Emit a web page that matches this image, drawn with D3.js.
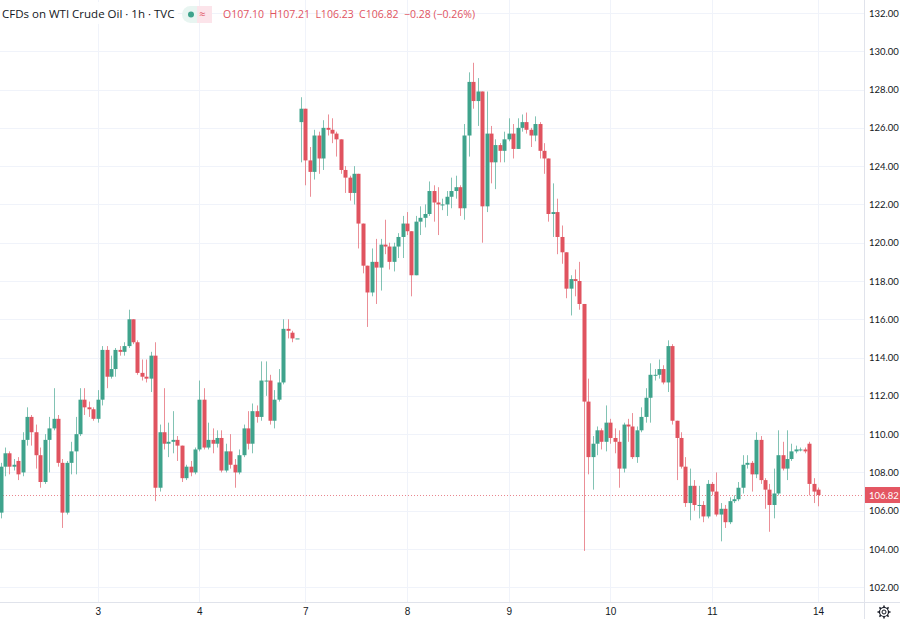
<!DOCTYPE html>
<html><head><meta charset="utf-8">
<script src="https://cdn.jsdelivr.net/npm/d3@7"></script>
<style>body{margin:0;background:#fff}svg{display:block;font-family:"Open Sans","Noto Sans",sans-serif}</style>
</head><body>
<svg id="c" width="900" height="619"></svg>
<script>
const opens=[105.9,108.3,109.0,108.3,108.6,108.0,109.7,110.9,110.1,108.9,107.5,109.7,110.3,110.8,108.5,105.9,108.5,109.1,110.0,111.8,111.4,111.3,110.8,111.8,114.4,113.0,113.4,114.4,114.3,114.6,116.0,114.8,113.2,113.0,112.9,114.1,107.2,110.1,109.5,109.6,109.7,109.4,107.7,108.3,108.0,109.2,111.8,109.3,109.7,109.5,109.8,108.1,109.1,108.4,108.0,108.9,110.3,109.5,111.2,110.9,112.8,112.8,110.7,111.8,112.7,115.5,115.3,115.0,
126.3,127.0,124.3,123.7,125.6,124.4,126.0,125.9,125.7,125.4,123.8,123.4,122.6,123.6,121.0,118.8,117.4,119.0,118.7,119.9,119.8,119.0,119.8,120.3,121.0,120.6,118.3,121.1,121.3,121.5,122.7,122.1,122.0,122.0,122.4,122.7,122.9,121.8,125.6,128.4,127.4,127.9,121.9,125.7,124.2,125.1,124.8,125.4,125.7,124.9,126.0,126.3,125.9,125.6,126.2,124.8,124.4,121.5,121.6,120.3,119.5,117.6,118.1,118.0,116.8,111.7,108.8,109.5,110.2,109.6,110.6,109.8,109.6,108.2,110.5,110.4,108.8,110.2,110.9,111.9,113.1,113.1,113.4,112.7,114.6,110.7,109.8,108.3,106.4,107.3,106.3,106.3,105.7,107.4,107.0,105.8,106.1,105.4,106.5,106.6,107.2,108.4,108.5,107.9,109.7,107.6,107.1,106.3,106.9,108.9,108.2,108.7,109.1,109.2,109.2,109.5,107.4,107.1];
const highs=[108.5,109.3,109.1,108.7,108.8,110.1,111.4,111.0,110.5,109.3,110.0,110.9,112.4,111.0,108.7,108.6,109.6,110.9,112.4,112.4,111.7,111.4,112.3,114.6,114.6,114.1,114.5,114.6,114.8,116.5,116.0,114.9,113.9,113.9,114.3,114.8,110.5,112.4,110.6,111.2,109.9,109.4,108.4,108.6,109.3,112.8,112.4,110.6,110.3,110.2,110.2,109.5,110.0,108.7,109.2,110.5,111.2,111.6,111.5,113.8,113.8,113.1,112.3,113.4,116.0,116.0,115.4,115.0,
127.6,127.0,125.0,125.9,125.8,126.4,126.7,126.5,125.8,125.4,124.0,123.5,124.0,123.6,121.0,118.8,119.7,120.2,120.2,121.2,120.0,120.0,120.5,121.4,121.6,120.6,121.4,121.9,122.0,123.2,123.0,122.9,122.3,122.7,123.4,123.5,123.0,126.2,128.9,129.4,128.6,127.9,127.9,126.1,125.4,125.2,125.8,126.5,126.2,126.5,126.7,126.8,126.0,126.6,126.3,125.2,124.4,123.1,122.3,120.9,119.5,118.3,118.6,119.0,116.8,112.9,109.9,110.4,110.3,111.5,110.8,110.3,110.2,110.6,110.8,111.1,110.4,111.4,112.4,113.7,113.4,113.9,113.6,114.9,114.7,110.7,110.1,108.8,108.2,107.6,107.3,106.5,107.6,107.5,108.0,106.4,106.3,106.7,106.8,107.5,108.9,108.9,108.6,110.1,109.9,107.7,107.4,108.2,110.2,109.6,110.2,109.5,109.4,109.3,109.3,109.6,107.7,107.21];
const lows=[105.6,107.8,107.9,108.1,107.6,107.8,109.4,109.4,108.2,107.2,107.4,108.0,110.2,108.3,105.1,105.8,107.9,107.9,109.9,111.0,110.9,110.7,110.6,111.5,112.4,112.9,113.0,114.1,114.1,114.5,114.7,113.1,112.8,112.7,112.2,106.5,107.0,109.2,108.8,109.0,108.6,107.5,107.6,107.8,107.9,109.1,109.2,109.2,109.0,109.3,108.0,108.0,108.2,107.2,107.9,108.8,109.2,109.0,110.6,110.7,112.0,110.5,110.3,111.7,112.6,115.0,114.8,115.0,
124.2,123.0,122.4,123.3,123.6,123.8,125.6,125.2,124.5,123.6,122.6,122.2,122.0,119.7,118.4,115.6,117.2,116.8,117.5,119.4,118.6,118.5,119.2,119.2,120.4,117.2,118.3,120.4,120.8,121.4,121.1,120.4,121.7,121.4,121.8,122.3,121.4,121.2,124.5,127.0,126.1,120.0,121.6,123.1,122.8,124.2,124.2,125.3,124.4,124.9,125.8,125.7,125.0,125.3,124.4,123.6,121.1,120.3,119.4,118.9,117.1,116.2,117.2,116.5,103.9,107.9,107.1,108.9,109.2,109.1,109.5,109.0,107.2,108.0,109.6,108.7,108.5,110.1,110.6,110.6,112.8,112.9,112.6,112.2,110.5,107.6,108.2,106.2,105.5,106.0,105.6,105.4,105.6,106.8,105.7,104.4,105.1,105.3,106.4,106.5,106.9,108.2,107.0,107.7,107.4,106.1,104.9,105.6,106.8,108.1,107.6,108.6,109.0,109.1,109.0,106.8,106.4,106.23];
const closes=[108.3,109.0,108.3,108.4,107.9,109.7,110.9,110.1,108.9,107.5,109.7,110.3,110.8,108.5,105.9,108.5,109.1,110.0,111.8,111.4,111.3,110.8,111.8,114.4,113.0,113.4,114.4,114.3,114.6,116.0,114.8,113.2,113.0,112.9,114.1,107.2,110.1,109.5,109.6,109.7,109.4,107.7,108.3,108.0,109.2,111.8,109.3,109.7,109.5,109.8,108.1,109.1,108.4,108.0,108.9,110.3,109.5,111.2,110.9,112.8,112.8,110.7,111.8,112.7,115.5,115.4,115.0,115.0,
127.0,124.3,123.7,125.6,124.4,126.0,125.9,125.7,125.4,123.8,123.4,122.6,123.6,121.0,118.8,117.4,119.0,118.7,119.9,119.8,119.0,119.8,120.3,121.0,120.6,118.3,121.1,121.3,121.5,122.7,122.1,122.0,122.0,122.4,122.7,122.9,121.8,125.6,128.4,127.4,127.9,121.9,125.7,124.2,125.1,124.8,125.4,125.7,124.9,126.0,126.3,125.9,125.6,126.2,124.8,124.4,121.5,121.6,120.3,119.5,117.6,118.1,118.0,116.8,111.7,108.8,109.5,110.2,109.6,110.6,109.8,109.6,108.2,110.5,110.4,108.8,110.2,110.9,111.9,113.1,113.1,113.4,112.7,114.6,110.7,109.8,108.3,106.4,107.3,106.3,106.3,105.7,107.4,107.0,105.8,106.1,105.4,106.5,106.6,107.2,108.4,108.5,107.9,109.7,107.6,107.1,106.3,106.9,108.9,108.2,108.7,109.1,109.2,109.2,109.1,107.4,107.0,106.82];
const dayTickIdx=[22,45,69,92,115,138,161,185];
const dayTickLabels=["3","4","7","8","9","10","11","14"];
const priceTicks=[102,104,106,108,110,112,114,116,118,120,122,124,126,128,130,132];
const lastPrice=106.82;

const svg=d3.select("#c");
const W=900,H=619,axisX=864,axisY=602;
const green="#3fa38c",red="#e0535f";
const y=d3.scaleLinear().domain([104,132]).range([549,13]);
const x=d3.scaleLinear().domain([0,185]).range([0.5,818]);
const n=closes.length;

const g=svg.append("g");
g.selectAll(".hg").data(priceTicks).join("line").attr("x1",0).attr("x2",axisX).attr("y1",d=>Math.round(y(d))+.5).attr("y2",d=>Math.round(y(d))+.5).attr("stroke","#f0f3fa");
g.selectAll(".vg").data(dayTickIdx).join("line").attr("y1",0).attr("y2",axisY).attr("x1",d=>Math.round(x(d))+.5).attr("x2",d=>Math.round(x(d))+.5).attr("stroke","#f0f3fa");

g.append("line").attr("x1",0).attr("x2",axisX).attr("y1",Math.round(y(lastPrice))+.5).attr("y2",Math.round(y(lastPrice))+.5).attr("stroke","#e0535f").attr("stroke-dasharray","1,2").attr("opacity",.7);

const idx=d3.range(n);
const col=i=>closes[i]>=opens[i]?green:red;
g.selectAll(".wick").data(idx).join("line").attr("x1",i=>Math.round(x(i))+.5).attr("x2",i=>Math.round(x(i))+.5)
 .attr("y1",i=>y(highs[i])).attr("y2",i=>y(lows[i])).attr("stroke",col).attr("stroke-opacity",.65);
g.selectAll(".body").data(idx).join("rect").attr("x",i=>Math.round(x(i))-1.5).attr("width",4)
 .attr("y",i=>y(Math.max(opens[i],closes[i])))
 .attr("height",i=>Math.max(1,Math.abs(y(opens[i])-y(closes[i])))).attr("fill",col);

svg.append("line").attr("x1",axisX+.5).attr("x2",axisX+.5).attr("y1",0).attr("y2",H).attr("stroke","#e0e3eb");
svg.append("line").attr("x1",0).attr("x2",W).attr("y1",axisY+.5).attr("y2",axisY+.5).attr("stroke","#e0e3eb");

const ya=svg.append("g").attr("transform",`translate(${axisX},0)`).call(d3.axisRight(y).tickValues(priceTicks).tickFormat(d3.format(".2f")).tickSize(0).tickPadding(5));
ya.select(".domain").remove();
ya.selectAll("text").attr("fill","#131722").attr("font-size",9.5).attr("font-family","Lato, 'Open Sans', sans-serif");
svg.append("rect").attr("x",axisX+1).attr("y",y(lastPrice)-8).attr("width",W-axisX-1).attr("height",16).attr("fill","#e45662");
svg.append("text").attr("x",axisX+5).attr("y",y(lastPrice)+3.5).attr("fill","#fff").attr("font-size",9.5).attr("font-family","Lato, 'Open Sans', sans-serif").text(lastPrice.toFixed(2));

const xa=svg.append("g").attr("transform",`translate(0,${axisY})`).call(d3.axisBottom(x).tickValues(dayTickIdx).tickFormat((d,i)=>dayTickLabels[i]).tickSize(0).tickPadding(6));
xa.select(".domain").remove();
xa.selectAll("text").attr("fill","#131722").attr("font-size",10);

const gear=svg.append("g").attr("transform","translate(884,612)");
gear.append("circle").attr("r",4.5).attr("fill","none").attr("stroke","#131722").attr("stroke-width",1.2);
d3.range(8).forEach(k=>{const a=k*Math.PI/4;gear.append("line").attr("x1",Math.cos(a)*4.5).attr("y1",Math.sin(a)*4.5).attr("x2",Math.cos(a)*6.5).attr("y2",Math.sin(a)*6.5).attr("stroke","#131722").attr("stroke-width",1.5);});
gear.append("circle").attr("r",2).attr("fill","#fff").attr("stroke","#131722");

const hd=svg.append("g");
hd.append("rect").attr("x",0).attr("y",2).attr("width",178).attr("height",22).attr("fill","#fff").attr("opacity",.85);
hd.append("text").attr("x",2).attr("y",18).attr("font-size",11.5).attr("fill","#131722").text("CFDs on WTI Crude Oil · 1h · TVC");
hd.append("rect").attr("x",182).attr("y",6).attr("width",30).attr("height",17).attr("rx",8.5).attr("fill","#e8f5f1");
hd.append("rect").attr("x",197).attr("y",6).attr("width",15).attr("height",17).attr("fill","#fce4ea");
hd.append("circle").attr("cx",191).attr("cy",14.5).attr("r",3).attr("fill",green);
hd.append("text").attr("x",199).attr("y",18).attr("font-size",11).attr("fill","#e0535f").text("≈");
const vals=[["O","107.10"],["H","107.21"],["L","106.23"],["C","106.82"]];
const info=hd.append("text").attr("x",223).attr("y",18).attr("font-size",10.5).attr("fill","#e0535f").attr("xml:space","preserve");
vals.forEach(v=>{info.append("tspan").text(v[0]+v[1]+"  ");});
info.append("tspan").text("−0.28 (−0.26%)");
</script>
</body></html>
